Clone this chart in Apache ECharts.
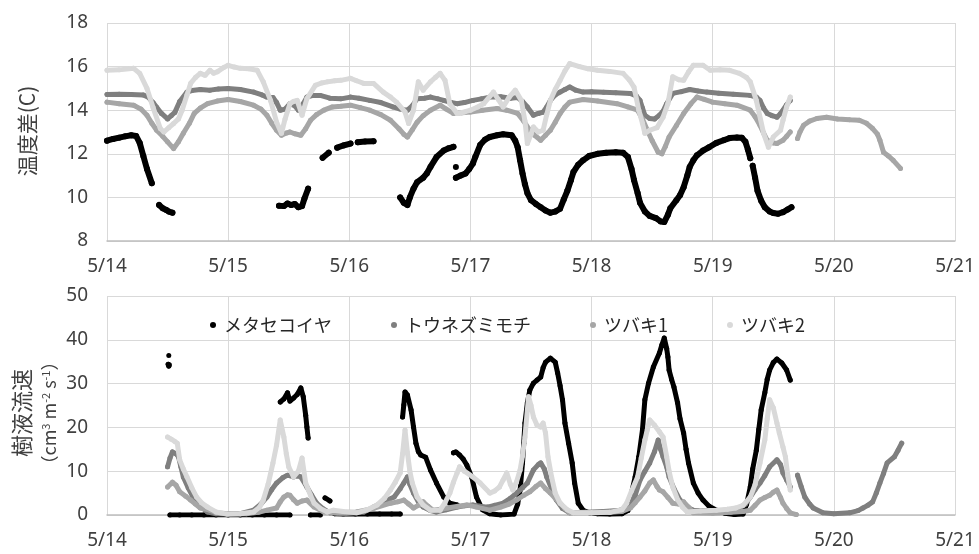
<!DOCTYPE html>
<html><head><meta charset="utf-8">
<script src="https://cdn.jsdelivr.net/npm/echarts@6/dist/echarts.min.js"></script>
<style>html,body{margin:0;padding:0;background:#fff}#c{width:979px;height:554px}</style>
</head><body><div id="c"></div>
<script>
// ---- axis settings / tick labels ----
const X_MIN = 14, X_MAX = 21, X_STEP = 1;
const X_LABEL_PREFIX = '5/';
const TEMP_AXIS = [8, 18, 2];
const FLOW_AXIS = [0, 50, 10];
const NAMES = ['メタセコイヤ', 'トウネズミモチ', 'ツバキ1', 'ツバキ2'];
const COLORS = ['#000000', '#7f7f7f', '#a6a6a6', '#d9d9d9'];

// ---- top panel: 温度差 (C) ; [day, value], null = gap ----
const TEMP_META = [[14.00,12.60],[14.05,12.68],[14.10,12.74],[14.15,12.80],[14.20,12.85],[14.24,12.82],[14.27,12.50],[14.30,11.90],[14.33,11.30],[14.37,10.65],null,
[14.43,9.65],[14.46,9.50],[14.49,9.42],[14.51,9.35],[14.54,9.30],null,
[15.42,9.62],[15.46,9.60],[15.49,9.72],[15.52,9.65],[15.55,9.70],[15.58,9.55],[15.61,9.60],[15.63,9.95],[15.66,10.40],null,
[15.78,11.82],[15.83,12.05],null,[15.90,12.28],[15.95,12.38],[16.01,12.47],null,[16.07,12.53],[16.13,12.56],[16.20,12.58],null,
[16.42,10.00],[16.45,9.75],[16.48,9.65],[16.50,10.00],[16.53,10.40],[16.56,10.70],[16.61,10.90],[16.64,11.10],[16.67,11.40],[16.72,11.85],[16.78,12.15],[16.82,12.25],[16.86,12.32],null,
[16.88,11.40],null,
[16.88,10.90],[16.92,11.00],[16.96,11.10],[16.99,11.30],[17.02,11.55],[17.04,11.85],[17.08,12.40],[17.12,12.65],[17.16,12.77],[17.22,12.85],[17.27,12.90],[17.34,12.85],[17.37,12.60],[17.39,12.30],[17.41,11.70],[17.43,11.10],[17.45,10.60],[17.47,10.20],[17.50,9.87],[17.54,9.70],[17.58,9.55],[17.62,9.40],[17.66,9.30],[17.70,9.35],[17.74,9.48],[17.77,9.90],[17.80,10.30],[17.83,10.80],[17.85,11.16],[17.89,11.50],[17.93,11.70],[17.98,11.90],[18.05,12.00],[18.12,12.05],[18.20,12.07],[18.26,12.05],[18.30,11.85],[18.33,11.30],[18.35,10.80],[18.38,10.20],[18.40,9.75],[18.44,9.35],[18.48,9.15],[18.53,9.05],[18.57,8.90],[18.60,8.87],[18.63,9.20],[18.65,9.50],[18.70,9.87],[18.73,10.10],[18.76,10.47],[18.79,11.00],[18.81,11.40],[18.84,11.70],[18.87,11.93],[18.92,12.15],[18.97,12.30],[19.03,12.50],[19.09,12.62],[19.14,12.72],[19.20,12.75],[19.24,12.74],[19.27,12.55],[19.29,12.20],[19.31,11.80],null,
[19.33,11.45],[19.35,10.90],[19.37,10.30],[19.40,9.85],[19.43,9.55],[19.47,9.35],[19.50,9.28],[19.54,9.25],[19.58,9.32],[19.62,9.45],[19.65,9.55]];

const TEMP_TOU = [[14.00,14.72],[14.10,14.73],[14.20,14.72],[14.30,14.70],[14.34,14.60],[14.38,14.35],[14.41,14.13],[14.45,13.85],[14.50,13.60],[14.53,13.75],[14.56,13.90],[14.60,14.40],[14.66,14.83],[14.70,14.90],[14.77,14.95],[14.85,14.92],[14.92,14.97],[15.00,15.00],[15.10,14.95],[15.21,14.83],[15.28,14.70],[15.32,14.60],[15.37,14.58],[15.40,14.35],[15.43,14.00],[15.47,14.05],[15.51,14.30],[15.55,14.20],[15.58,14.00],[15.62,14.30],[15.65,14.60],[15.70,14.68],[15.76,14.68],[15.84,14.55],[15.93,14.52],[16.01,14.60],[16.08,14.55],[16.17,14.45],[16.26,14.35],[16.36,14.15],[16.42,14.05],[16.48,14.00],[16.52,14.20],[16.56,14.53],[16.62,14.55],[16.67,14.60],[16.73,14.52],[16.78,14.45],[16.84,14.35],[16.89,14.30],[16.95,14.35],[17.02,14.45],[17.09,14.52],[17.16,14.60],[17.25,14.62],[17.33,14.55],[17.39,14.58],[17.43,14.40],[17.47,14.15],[17.52,13.77],[17.56,13.85],[17.60,13.91],[17.63,14.15],[17.66,14.45],[17.70,14.70],[17.74,14.83],[17.78,14.95],[17.82,15.06],[17.87,14.92],[17.93,14.83],[18.00,14.85],[18.10,14.82],[18.20,14.80],[18.32,14.77],[18.37,14.65],[18.40,14.45],[18.42,14.10],[18.44,13.77],[18.48,13.62],[18.52,13.60],[18.56,13.77],[18.59,13.95],[18.62,14.30],[18.67,14.77],[18.74,14.85],[18.81,14.95],[18.88,14.88],[18.95,14.83],[19.05,14.78],[19.17,14.73],[19.31,14.68],[19.36,14.60],[19.39,14.45],[19.42,14.10],[19.45,13.85],[19.49,13.75],[19.53,13.68],[19.56,13.85],[19.58,14.00],[19.61,14.25],[19.64,14.45]];

const TEMP_TSU1 = [[14.00,14.37],[14.10,14.30],[14.22,14.23],[14.28,14.05],[14.33,13.77],[14.37,13.40],[14.41,13.08],[14.46,12.80],[14.50,12.55],[14.55,12.24],[14.59,12.55],[14.63,12.94],[14.68,13.40],[14.72,13.85],[14.77,14.10],[14.83,14.30],[14.91,14.42],[15.00,14.49],[15.10,14.40],[15.21,14.23],[15.27,14.05],[15.32,13.77],[15.36,13.40],[15.40,13.08],[15.44,12.85],[15.48,12.95],[15.51,13.00],[15.55,12.92],[15.60,12.85],[15.64,13.15],[15.68,13.54],[15.73,13.80],[15.79,14.00],[15.86,14.15],[15.93,14.18],[16.01,14.23],[16.09,14.12],[16.17,14.00],[16.26,13.80],[16.34,13.54],[16.41,13.15],[16.45,12.90],[16.48,12.77],[16.52,13.10],[16.56,13.45],[16.61,13.75],[16.67,14.00],[16.75,14.23],[16.80,14.05],[16.86,13.85],[16.93,13.88],[17.00,13.92],[17.10,14.00],[17.22,14.08],[17.30,14.00],[17.39,13.85],[17.44,13.50],[17.49,13.08],[17.53,12.85],[17.58,12.62],[17.62,12.85],[17.66,13.08],[17.70,13.45],[17.74,13.85],[17.78,14.15],[17.82,14.37],[17.93,14.49],[18.05,14.42],[18.21,14.30],[18.30,14.15],[18.38,14.00],[18.42,13.60],[18.46,13.08],[18.50,12.60],[18.55,12.07],[18.58,12.00],[18.61,12.35],[18.64,12.77],[18.70,13.30],[18.76,13.85],[18.82,14.30],[18.87,14.60],[18.93,14.50],[19.00,14.37],[19.10,14.30],[19.20,14.23],[19.31,14.00],[19.35,13.70],[19.39,13.31],[19.42,12.95],[19.45,12.62],[19.50,12.50],[19.53,12.47],[19.58,12.62],[19.61,12.80],[19.64,13.00],null,
[19.70,12.70],[19.72,13.00],[19.75,13.31],[19.80,13.50],[19.86,13.62],[19.94,13.68],[20.03,13.60],[20.13,13.56],[20.21,13.54],[20.27,13.40],[20.32,13.16],[20.36,12.90],[20.38,12.62],[20.41,12.07],[20.45,11.90],[20.49,11.70],[20.55,11.33]];

const TEMP_TSU2 = [[14.00,15.83],[14.10,15.85],[14.22,15.92],[14.27,15.69],[14.33,15.00],[14.38,14.13],[14.44,13.16],[14.47,13.00],[14.51,13.20],[14.55,13.39],[14.59,13.60],[14.62,14.00],[14.66,14.70],[14.69,15.23],[14.73,15.50],[14.77,15.69],[14.81,15.60],[14.85,15.83],[14.88,15.70],[14.91,15.76],[14.96,15.95],[15.00,16.06],[15.05,15.98],[15.10,15.92],[15.17,15.90],[15.24,15.83],[15.29,15.30],[15.35,14.45],[15.40,13.45],[15.44,12.94],[15.47,13.60],[15.51,14.30],[15.54,14.40],[15.57,14.45],[15.61,13.77],[15.65,14.53],[15.72,15.14],[15.77,15.25],[15.82,15.30],[15.88,15.35],[15.93,15.37],[16.01,15.46],[16.06,15.35],[16.12,15.23],[16.20,15.23],[16.28,14.83],[16.34,14.60],[16.39,14.37],[16.46,13.92],[16.49,13.39],[16.53,14.00],[16.57,15.30],[16.61,14.92],[16.67,15.30],[16.71,15.50],[16.75,15.69],[16.79,15.37],[16.83,14.30],[16.89,13.85],[16.95,13.92],[17.00,14.00],[17.06,14.15],[17.11,14.30],[17.19,14.83],[17.23,14.50],[17.27,14.15],[17.32,14.60],[17.37,14.92],[17.42,14.45],[17.45,13.50],[17.47,12.47],[17.50,12.90],[17.52,13.23],[17.56,13.00],[17.60,13.08],[17.63,13.80],[17.66,14.45],[17.70,14.95],[17.74,15.37],[17.78,15.80],[17.82,16.14],[17.90,16.00],[17.97,15.90],[18.05,15.83],[18.15,15.78],[18.26,15.69],[18.31,15.40],[18.35,15.06],[18.39,14.00],[18.42,13.40],[18.44,12.94],[18.48,13.08],[18.54,13.20],[18.59,13.68],[18.63,14.30],[18.67,15.53],[18.72,15.40],[18.76,15.37],[18.80,15.75],[18.84,16.06],[18.92,16.06],[18.98,15.83],[19.06,15.85],[19.14,15.83],[19.22,15.69],[19.28,15.50],[19.31,15.30],[19.36,14.45],[19.42,12.94],[19.46,12.30],[19.50,12.77],[19.56,13.08],[19.58,13.54],[19.61,14.15],[19.64,14.60]];

// ---- bottom panel: 樹液流速 ----
const FLOW_META = [[14.505,34.4],[14.51,34.0],[14.515,34.3],null,[14.51,36.4],null,
[14.52,0],[14.60,0],[14.70,0],[14.80,0],[14.90,0],[15.00,0],[15.10,0],[15.20,0],[15.30,0],[15.40,0],[15.51,0],null,
[15.43,25.8],[15.46,26.5],[15.49,27.9],[15.51,26.0],[15.54,26.7],[15.57,27.5],[15.60,29.0],[15.62,27.0],[15.64,22.8],[15.65,20.1],[15.66,17.6],null,
[15.68,0],[15.76,0],null,[15.80,3.9],[15.84,3.2],null,
[15.88,0.3],[15.95,0.2],[16.05,0.2],[16.15,0.2],[16.25,0.2],[16.35,0.2],[16.42,0.2],null,
[16.44,22.4],[16.45,25.1],[16.46,28.1],[16.48,27.4],[16.51,24.0],[16.53,20.1],[16.55,16.4],[16.57,14.5],[16.59,13.7],[16.63,13.2],[16.67,10.3],[16.72,7.3],[16.78,4.1],[16.83,2.7],[16.89,2.3],null,
[16.86,14.2],[16.88,14.4],[16.91,13.7],[16.94,12.8],[16.97,11.4],[17.01,8.7],[17.05,4.1],[17.10,1.2],[17.16,0.3],[17.25,0],[17.36,0.2],[17.39,2.5],[17.41,5.7],[17.43,11.9],[17.44,16.4],[17.45,21.0],[17.47,25.6],[17.49,28.5],[17.52,30.1],[17.55,30.8],[17.58,31.5],[17.60,33.6],[17.62,34.9],[17.66,35.8],[17.70,34.9],[17.72,32.4],[17.74,29.5],[17.76,26.3],[17.78,21.0],[17.81,16.4],[17.84,11.9],[17.86,7.3],[17.89,2.7],[17.93,1.1],[17.98,0.5],[18.05,0.3],[18.15,0.2],[18.25,0.3],[18.30,1.0],[18.33,5.0],[18.36,8.7],[18.39,13.3],[18.42,19.4],[18.44,26.3],[18.47,30.1],[18.51,33.8],[18.56,37.0],[18.58,38.8],[18.60,40.4],[18.62,38.0],[18.63,36.1],[18.64,33.1],[18.66,31.0],[18.68,29.2],[18.71,25.6],[18.73,22.0],[18.76,18.7],[18.78,15.0],[18.80,11.9],[18.84,7.3],[18.88,5.0],[18.92,3.4],[18.97,2.0],[19.03,1.1],[19.10,0.4],[19.18,0.1],[19.25,0.2],[19.28,2.5],[19.31,6.4],[19.33,10.5],[19.36,14.8],[19.38,19.5],[19.40,24.0],[19.43,27.9],[19.45,31.0],[19.47,33.1],[19.50,34.8],[19.53,35.6],[19.57,34.7],[19.61,33.1],[19.64,30.8]];

const FLOW_TOU = [[14.50,11.0],[14.52,13.0],[14.54,14.4],[14.57,14.0],[14.59,13.3],[14.61,11.0],[14.63,8.7],[14.67,6.2],[14.71,4.1],[14.77,2.0],[14.83,0.7],[14.90,0.3],[15.00,0.2],[15.10,0.3],[15.21,1.1],[15.27,2.5],[15.32,4.1],[15.36,5.8],[15.40,7.3],[15.45,8.5],[15.49,9.1],[15.54,8.7],[15.57,9.0],[15.60,8.7],[15.65,6.4],[15.69,4.5],[15.73,2.7],[15.78,1.5],[15.84,0.5],[15.95,0.3],[16.05,0.5],[16.12,0.7],[16.20,1.8],[16.26,2.7],[16.32,3.5],[16.37,4.1],[16.42,6.0],[16.45,7.3],[16.48,8.7],[16.50,7.0],[16.53,5.0],[16.57,3.0],[16.61,1.8],[16.67,1.0],[16.72,0.7],[16.80,1.2],[16.89,1.8],[16.95,2.1],[17.02,2.3],[17.08,2.0],[17.14,1.8],[17.20,2.2],[17.27,2.7],[17.33,3.8],[17.38,5.0],[17.43,6.2],[17.47,7.3],[17.52,10.3],[17.56,11.5],[17.58,11.9],[17.61,10.5],[17.63,8.7],[17.67,6.0],[17.71,3.4],[17.76,1.5],[17.82,0.5],[17.95,0.6],[18.10,0.8],[18.22,1.0],[18.32,1.8],[18.36,4.5],[18.40,8.0],[18.44,10.0],[18.48,11.9],[18.52,14.5],[18.55,17.1],[18.57,15.0],[18.59,13.3],[18.62,11.0],[18.64,8.7],[18.68,6.0],[18.73,3.4],[18.79,1.8],[18.84,1.1],[18.95,1.0],[19.10,1.0],[19.20,1.2],[19.27,2.5],[19.31,4.1],[19.35,5.8],[19.39,7.3],[19.43,9.0],[19.47,11.0],[19.53,12.6],[19.56,11.5],[19.58,9.6],[19.61,8.0],[19.64,6.4],null,
[19.70,9.1],[19.73,6.5],[19.76,4.1],[19.80,2.5],[19.83,1.6],[19.91,0.5],[20.00,0.3],[20.13,0.5],[20.20,1.0],[20.24,1.6],[20.28,2.2],[20.32,3.0],[20.35,5.0],[20.38,7.3],[20.41,9.5],[20.44,11.9],[20.50,13.3],[20.53,14.8],[20.56,16.4]];

const FLOW_TSU1 = [[14.50,6.4],[14.54,7.5],[14.57,6.8],[14.60,5.3],[14.65,4.3],[14.69,3.4],[14.73,2.5],[14.77,1.6],[14.85,1.1],[14.90,0.5],[15.00,0.3],[15.15,0.3],[15.25,0.6],[15.32,1.1],[15.40,1.6],[15.43,3.0],[15.46,4.1],[15.49,4.6],[15.51,4.5],[15.54,3.5],[15.57,2.7],[15.61,3.2],[15.65,3.4],[15.71,1.8],[15.79,0.7],[15.90,0.5],[16.06,0.7],[16.20,1.5],[16.34,2.7],[16.40,3.0],[16.45,3.4],[16.49,2.5],[16.53,1.6],[16.57,2.2],[16.61,3.0],[16.65,2.0],[16.69,1.1],[16.75,1.3],[16.81,1.6],[16.90,2.0],[16.97,2.3],[17.05,1.8],[17.16,1.1],[17.25,1.8],[17.32,2.5],[17.38,3.4],[17.44,4.5],[17.49,5.3],[17.54,6.5],[17.58,7.3],[17.62,6.0],[17.66,5.0],[17.70,3.8],[17.74,2.7],[17.78,1.5],[17.82,0.5],[18.00,0.5],[18.15,0.6],[18.25,0.8],[18.32,1.6],[18.36,2.8],[18.40,4.1],[18.44,5.5],[18.48,7.3],[18.51,8.0],[18.54,6.5],[18.56,5.7],[18.59,5.3],[18.63,4.0],[18.67,2.7],[18.72,2.5],[18.76,3.0],[18.80,1.8],[18.84,0.5],[19.00,0.4],[19.15,0.6],[19.25,0.8],[19.31,1.1],[19.35,2.2],[19.39,3.4],[19.43,4.0],[19.47,4.5],[19.50,5.2],[19.53,5.7],[19.56,4.0],[19.58,2.7],[19.61,1.5],[19.64,0.5],[19.69,0.1]];

const FLOW_TSU2 = [[14.50,17.8],[14.53,17.3],[14.56,16.8],[14.58,16.4],[14.60,12.6],[14.63,10.5],[14.66,8.7],[14.70,6.2],[14.74,4.1],[14.78,2.8],[14.83,1.8],[14.90,0.7],[14.99,0.2],[15.10,0.3],[15.21,0.7],[15.26,1.8],[15.29,3.4],[15.33,7.0],[15.37,11.9],[15.40,16.0],[15.43,21.7],[15.46,17.8],[15.48,14.0],[15.50,11.0],[15.54,8.7],[15.58,10.0],[15.61,13.0],[15.64,7.3],[15.68,4.5],[15.71,2.7],[15.76,1.5],[15.82,0.7],[15.87,1.1],[15.95,0.8],[16.06,0.5],[16.15,1.2],[16.23,2.3],[16.29,3.8],[16.34,5.7],[16.38,7.5],[16.42,9.6],[16.44,14.0],[16.46,19.4],[16.48,14.2],[16.50,10.0],[16.52,7.3],[16.56,4.1],[16.61,2.3],[16.67,1.1],[16.75,1.1],[16.79,2.8],[16.83,5.0],[16.86,7.5],[16.89,9.6],[16.91,11.0],[16.95,10.0],[17.02,8.7],[17.08,7.3],[17.16,5.0],[17.20,5.5],[17.24,6.4],[17.27,8.0],[17.30,9.6],[17.33,7.0],[17.35,5.7],[17.38,7.5],[17.41,10.3],[17.43,13.5],[17.45,17.8],[17.47,24.0],[17.48,27.0],[17.50,25.0],[17.52,22.4],[17.55,20.5],[17.58,20.1],[17.60,21.0],[17.62,18.7],[17.64,13.3],[17.67,8.7],[17.70,5.0],[17.74,2.7],[17.80,1.2],[17.85,0.5],[18.00,0.5],[18.15,0.6],[18.25,1.2],[18.29,2.7],[18.33,5.5],[18.38,8.7],[18.41,13.0],[18.44,17.1],[18.46,19.5],[18.48,21.7],[18.52,20.5],[18.56,19.0],[18.59,17.8],[18.62,13.3],[18.64,10.0],[18.67,6.4],[18.71,3.5],[18.75,1.8],[18.79,0.7],[18.90,0.9],[19.03,1.1],[19.12,1.3],[19.19,1.6],[19.25,2.2],[19.31,4.1],[19.35,7.0],[19.39,11.9],[19.43,17.1],[19.45,22.0],[19.47,26.3],[19.50,24.5],[19.53,21.0],[19.55,18.7],[19.58,15.5],[19.60,13.3],[19.62,9.0],[19.64,5.7]];

// ---- build chart ----
const FONT = '"Noto Sans", "Noto Sans CJK JP", sans-serif';
const JFONT = '"Noto Sans CJK JP", "Noto Sans", sans-serif';
const TXT = '#404040';

function xAxisCfg(gi) {
  return {
    type: 'value', gridIndex: gi, min: X_MIN, max: X_MAX, interval: X_STEP,
    axisLine: { show: true, lineStyle: { color: '#bfbfbf', width: 1.5 } },
    axisTick: { show: false },
    axisLabel: { margin: 16, color: TXT, fontSize: 19, fontFamily: FONT, formatter: v => X_LABEL_PREFIX + v },
    splitLine: { show: true, lineStyle: { color: '#d9d9d9', width: 1 } }
  };
}
function yAxisCfg(gi, ax) {
  return {
    type: 'value', gridIndex: gi, min: ax[0], max: ax[1], interval: ax[2],
    axisLine: { show: false }, axisTick: { show: false },
    axisLabel: { margin: 19, color: TXT, fontSize: 19, fontFamily: FONT },
    splitLine: { show: true, lineStyle: { color: '#d9d9d9', width: 1 } }
  };
}
function mk(i, data, gi, w) {
  const c = COLORS[i];
  return {
    type: 'line', name: NAMES[i], xAxisIndex: gi, yAxisIndex: gi,
    data: data.map(p => p ? p : ['-', '-']),
    showSymbol: true, showAllSymbol: true, symbol: 'circle', symbolSize: w,
    itemStyle: { color: c }, lineStyle: { color: c, width: w, cap: 'round', join: 'round' },
    connectNulls: false, silent: true, animation: false, z: 2 + i
  };
}

const chart = echarts.init(document.getElementById('c'), null, { renderer: 'canvas' });
chart.setOption({
  backgroundColor: '#ffffff',
  animation: false,
  grid: [
    { left: 107, top: 23, width: 848, height: 218 },
    { left: 107, top: 296, width: 848, height: 219 }
  ],
  xAxis: [xAxisCfg(0), xAxisCfg(1)],
  yAxis: [yAxisCfg(0, TEMP_AXIS), yAxisCfg(1, FLOW_AXIS)],
  legend: {
    data: NAMES, left: 205, top: 309, icon: 'circle', itemWidth: 6, itemHeight: 6, itemGap: 59,
    selectedMode: false,
    textStyle: { fontFamily: JFONT, fontSize: 18, color: '#262626', padding: [0, 0, 0, 3], lineHeight: 22 }
  },
  graphic: [
    { type: 'text', x: 27, y: 131, rotation: Math.PI / 2,
      style: { text: '温度差(C)', fontFamily: JFONT, fontSize: 21, fill: TXT, align: 'center', verticalAlign: 'middle' } },
    { type: 'text', x: 22, y: 413, rotation: Math.PI / 2,
      style: { text: '樹液流速', fontFamily: JFONT, fontSize: 22, fill: TXT, align: 'center', verticalAlign: 'middle' } },
    { type: 'text', x: 49, y: 413, rotation: Math.PI / 2,
      style: { text: '（cm{s|3} m{s|-2} s{s|-1}）', fontFamily: JFONT, fontSize: 18, fill: TXT, align: 'center', verticalAlign: 'middle',
        rich: { s: { fontSize: 11, fontFamily: JFONT, fill: TXT, verticalAlign: 'top', lineHeight: 18 } } } }
  ],
  series: [
    mk(0, TEMP_META, 0, 6), mk(1, TEMP_TOU, 0, 5), mk(2, TEMP_TSU1, 0, 5), mk(3, TEMP_TSU2, 0, 5),
    mk(0, FLOW_META, 1, 5), mk(1, FLOW_TOU, 1, 5), mk(2, FLOW_TSU1, 1, 5), mk(3, FLOW_TSU2, 1, 5)
  ]
});
</script>
</body></html>
